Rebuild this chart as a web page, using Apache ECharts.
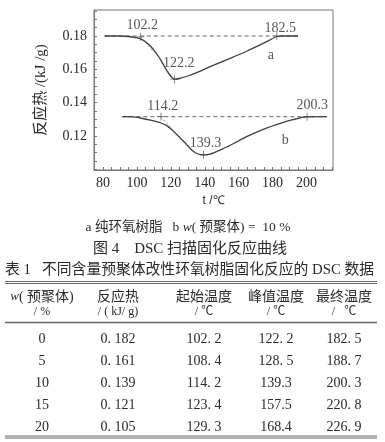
<!DOCTYPE html>
<html><head><meta charset="utf-8">
<script src="https://cdn.jsdelivr.net/npm/echarts@6/dist/echarts.min.js"></script>
<style>html,body{margin:0;padding:0;background:#fff}#c{width:385px;height:442px}</style>
</head><body><div id="c"></div>
<script>
// ---- chart data ----
const xTickLabels = [80, 100, 120, 140, 160, 180, 200];
const yTickLabels = [0.12, 0.14, 0.16, 0.18];
// curve a: pure epoxy
const curveA_T = [81, 90, 95, 100, 102.2, 105, 108, 111, 114, 117, 119, 121, 122.2, 125, 130, 137, 145, 155, 165, 172, 178, 182.5, 186, 195];
const curveA_H = [0.18, 0.18, 0.1797, 0.1789, 0.1783, 0.1766, 0.1740, 0.1702, 0.1657, 0.1603, 0.1572, 0.1548, 0.1541, 0.1545, 0.1560, 0.1588, 0.1624, 0.1666, 0.1710, 0.1744, 0.1774, 0.1797, 0.18, 0.18];
// curve b: w(prepolymer) = 10%
const curveB_T = [91.4, 98, 102, 108, 114.2, 118, 121.5, 125, 129, 133, 136, 139.3, 143, 150, 157, 165, 176, 185, 192, 200.3, 212];
const curveB_H = [0.1316, 0.1315, 0.1308, 0.1295, 0.1278, 0.1259, 0.1229, 0.1194, 0.1152, 0.1110, 0.1092, 0.1087, 0.1091, 0.1120, 0.1155, 0.1198, 0.1246, 0.1277, 0.1298, 0.1315, 0.1316];
const baseA = [[81, 0.18], [195, 0.18]];
const baseB = [[91.4, 0.1316], [212, 0.1316]];
const tangentA = [[102.2, 0.1797], [110, 0.1702]];
const tangentB = [[114.2, 0.1314], [121.5, 0.1232]];
const markT = [102.2, 122.2, 182.5, 114.2, 139.3, 200.3];
const markH = [0.1795, 0.1541, 0.18, 0.1316, 0.1087, 0.1316];
const annText = ['102.2', '122.2', '182.5', '114.2', '139.3', '200.3', 'a', 'b'];
const annT = [103.2, 124.6, 184.5, 115.2, 140.4, 203.4, 179, 187.5];
const annH = [0.1866, 0.1636, 0.1846, 0.1378, 0.1156, 0.1386, 0.1686, 0.1176];

// ---- captions and table ----
const caption1 = '{t|a 纯环氧树脂   b }{i|w}{t|( 预聚体) =  10 %}';
const caption2 = '图 4    DSC 扫描固化反应曲线';
const tableTitle = '表 1   不同含量预聚体改性环氧树脂固化反应的 DSC 数据';
const headRow1 = ['{i|w}{t|( 预聚体)}', '反应热', '起始温度', '峰值温度', '最终温度'];
const headRow2 = ['/ %', '/ ( kJ/ g)', '/ ℃', '/ ℃', '/   ℃'];
const colW = ['0', '5', '10', '15', '20'];
const colHeat = ['0. 182', '0. 161', '0. 139', '0. 121', '0. 105'];
const colStart = ['102. 2', '108. 4', '114. 2', '123. 4', '129. 3'];
const colPeak = ['122. 2', '128. 5', '139.3', '157.5', '168.4'];
const colEnd = ['182. 5', '188. 7', '200. 3', '220. 8', '226. 9'];

const SERIF = '"Liberation Serif", "Noto Sans CJK SC", serif';
const TXT = '#2a2a2a';
const LINE = '#404040';

function pairs(xs, ys) { return xs.map((x, i) => [x, ys[i]]); }
function range(a, b, s) { const r = []; for (let v = a; v <= b + 1e-9; v += s) r.push(+v.toFixed(4)); return r; }

const colX = [42, 118, 204, 276, 344];
const rowY = [339, 361, 383, 405, 427];
const graphics = [];
function txt(text, x, y, size, align, rich) {
  const st = { text: text, x: x, y: y, font: size + 'px ' + SERIF, fill: TXT,
    align: align || 'center', verticalAlign: 'middle', textAlign: align || 'center', textVerticalAlign: 'middle' };
  if (rich) st.rich = rich;
  graphics.push({ type: 'text', style: st, silent: true });
}
function hline(y, x1, x2, w, c) {
  graphics.push({ type: 'line', shape: { x1: x1, y1: y, x2: x2, y2: y }, style: { stroke: c || '#555', lineWidth: w || 1 }, silent: true });
}
const richCap = { t: { font: '13.5px ' + SERIF, fill: TXT }, i: { font: 'italic 13.5px ' + SERIF, fill: TXT } };
txt(caption1, 188, 227, 13.5, 'center', richCap);
txt(caption2, 190, 249, 15);
txt(tableTitle, 5, 270, 14.8, 'left');
hline(281.5, 5, 377, 1, '#666');
hline(283.5, 5, 377, 1, '#666');
headRow1.forEach((h, i) => txt(h, colX[i], 297, 14, 'center', i === 0 ? { t: { font: '14px ' + SERIF, fill: TXT }, i: { font: 'italic 13px ' + SERIF, fill: TXT } } : null));
headRow2.forEach((h, i) => txt(h, colX[i], 312, 12));
hline(322.5, 5, 377, 1.5, '#666');
[colW, colHeat, colStart, colPeak, colEnd].forEach((col, ci) => col.forEach((v, ri) => txt(v, colX[ci], rowY[ri], 14)));
hline(436, 5, 377, 1, '#666');
hline(438, 5, 377, 1, '#666');

const plus = 'path://M4.55,0h0.9v4.55h4.55v0.9h-4.55v4.55h-0.9v-4.55h-4.55v-0.9h4.55z';

const option = {
  animation: false,
  backgroundColor: '#fff',
  grid: { left: 94, right: 52, top: 10, bottom: 272, show: true, borderColor: '#777', borderWidth: 1, backgroundColor: 'transparent' },
  xAxis: {
    type: 'value', min: 74.7, max: 215.6,
    name: '{i|t} /℃', nameLocation: 'middle', nameGap: 25,
    nameTextStyle: { rich: { i: { font: 'italic 13px ' + SERIF, color: TXT }, t: { font: '13px ' + SERIF, color: TXT } }, font: '13px ' + SERIF, color: TXT },
    splitLine: { show: false },
    axisLine: { show: true, onZero: false, lineStyle: { color: '#777' } },
    axisTick: { show: true, inside: true, length: 3, lineStyle: { color: '#777' }, customValues: range(75, 215, 5) },
    axisLabel: { customValues: xTickLabels, fontFamily: SERIF, fontSize: 14, color: TXT, margin: 6 }
  },
  yAxis: {
    type: 'value', min: 0.0996, max: 0.1956,
    name: '反应热 /(kJ /g)', nameLocation: 'middle', nameGap: 45, nameRotate: 90,
    nameTextStyle: { fontFamily: SERIF, fontSize: 15, color: TXT },
    splitLine: { show: false },
    axisLine: { show: true, onZero: false, lineStyle: { color: '#777' } },
    axisTick: { show: true, inside: true, length: 3, lineStyle: { color: '#777' }, customValues: range(0.1, 0.195, 0.005) },
    axisLabel: { customValues: yTickLabels, formatter: v => v.toFixed(2), fontFamily: SERIF, fontSize: 14, color: TXT, margin: 7 }
  },
  graphic: graphics,
  series: [
    { type: 'line', data: baseA, showSymbol: false, lineStyle: { color: '#666', width: 1, type: [4, 3] }, silent: true },
    { type: 'line', data: baseB, showSymbol: false, lineStyle: { color: '#666', width: 1, type: [4, 3] }, silent: true },
    { type: 'line', data: tangentA, showSymbol: false, lineStyle: { color: '#888', width: 1, type: [2, 2] }, silent: true },
    { type: 'line', data: tangentB, showSymbol: false, lineStyle: { color: '#888', width: 1, type: [2, 2] }, silent: true },
    { type: 'line', data: pairs(curveA_T, curveA_H), smooth: 0.3, showSymbol: false, lineStyle: { color: LINE, width: 1.3 }, silent: true },
    { type: 'line', data: pairs(curveB_T, curveB_H), smooth: 0.3, showSymbol: false, lineStyle: { color: LINE, width: 1.3 }, silent: true },
    { type: 'scatter', data: pairs(markT, markH), symbol: plus, symbolSize: 8, itemStyle: { color: '#333' }, silent: true },
    { type: 'scatter', data: annText.map((t, i) => ({ name: t, value: [annT[i], annH[i]] })), symbolSize: 0,
      label: { show: true, position: 'inside', formatter: p => p.name, fontFamily: SERIF, fontSize: 14, color: TXT }, silent: true }
  ]
};
echarts.init(document.getElementById('c'), null, { renderer: 'canvas' }).setOption(option);
</script></body></html>
